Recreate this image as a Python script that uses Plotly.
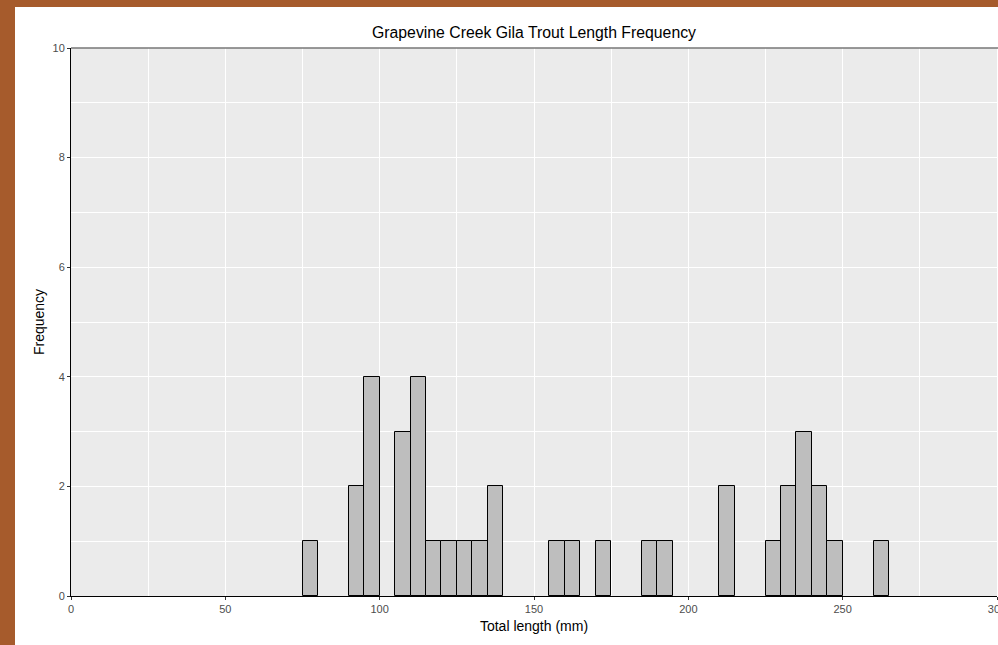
import plotly.graph_objects as go

# Histogram bins (5 mm wide): left edges and counts
bin_left = [75, 90, 95, 105, 110, 115, 120, 125, 130, 135,
            155, 160, 170, 185, 190, 210, 225, 230, 235, 240, 245, 260]
counts = [1, 2, 4, 3, 4, 1, 1, 1, 1, 2,
          1, 1, 1, 1, 1, 2, 1, 2, 3, 2, 1, 1]
bin_width = 5
x_ticks = [0, 50, 100, 150, 200, 250, 300]
y_ticks = [0, 2, 4, 6, 8, 10]

centers = [b + bin_width / 2 for b in bin_left]

W, H = 998, 645
ml, mr, mt, mb = 71, 1, 48, 49
pw, ph = W - ml - mr, H - mt - mb

fig = go.Figure()
fig.add_trace(go.Bar(
    x=centers, y=counts, width=bin_width,
    marker=dict(color="#BEBEBE", line=dict(color="black", width=1)),
    hoverinfo="x+y",
))

font = "Liberation Sans, Arial, sans-serif"

def px2x(p):
    return (p - ml) / pw

def px2y(p):
    return (H - mb - p) / ph

fig.update_layout(
    template="none",
    width=W, height=H,
    margin=dict(l=ml, r=mr, t=mt, b=mb, pad=0),
    paper_bgcolor="white",
    plot_bgcolor="#EBEBEB",
    showlegend=False,
    bargap=0,
    font=dict(family=font, color="black"),
    title=dict(text="Grapevine Creek Gila Trout Length Frequency",
               x=0.5, xref="paper", xanchor="center",
               y=1 - 32 / H, yref="container", yanchor="middle",
               font=dict(size=15.8, family=font, color="black")),
    xaxis=dict(
        range=[0, 300], tickvals=x_ticks, ticktext=[str(v) for v in x_ticks],
        showgrid=True, gridcolor="white", gridwidth=1.2,
        minor=dict(dtick=25, tick0=0, showgrid=True, gridcolor="white", gridwidth=0.5, ticks=""),
        ticks="outside", ticklen=3, tickcolor="#333333", tickwidth=1,
        tickfont=dict(size=11, color="#4D4D4D", family=font),
        ticklabeloverflow="allow",
        showline=True, linecolor="black", linewidth=1, mirror=False,
        zeroline=False, automargin=False,
        title=dict(text="Total length (mm)", font=dict(size=14, family=font, color="black"), standoff=6),
    ),
    yaxis=dict(
        range=[0, 10], tickvals=y_ticks, ticktext=[str(v) for v in y_ticks],
        showgrid=True, gridcolor="white", gridwidth=1.2,
        minor=dict(dtick=1, tick0=0, showgrid=True, gridcolor="white", gridwidth=0.5, ticks=""),
        ticks="outside", ticklen=3, tickcolor="#333333", tickwidth=1,
        tickfont=dict(size=11, color="#4D4D4D", family=font),
        showline=True, linecolor="black", linewidth=1,
        zeroline=False, automargin=False,
        title=dict(text="Frequency", font=dict(size=14, family=font, color="black"), standoff=4),
    ),
    shapes=[
        # grey top border of the panel
        dict(type="line", xref="paper", yref="paper", x0=0, x1=px2x(W + 5), y0=1, y1=1,
             line=dict(color="#777777", width=1.5), layer="above"),
        # brown page frame (top and left bands)
        dict(type="rect", xref="paper", yref="paper", x0=px2x(-2), x1=px2x(W + 5),
             y0=px2y(7), y1=px2y(-2), fillcolor="#A65B2C", line=dict(width=0), layer="above"),
        dict(type="rect", xref="paper", yref="paper", x0=px2x(-2), x1=px2x(15),
             y0=px2y(H + 2), y1=px2y(-2), fillcolor="#A65B2C", line=dict(width=0), layer="above"),
    ],
)

fig.write_html("out.html", config={"displayModeBar": False},
               post_script="document.body.style.margin='0';document.body.style.overflow='hidden';")
